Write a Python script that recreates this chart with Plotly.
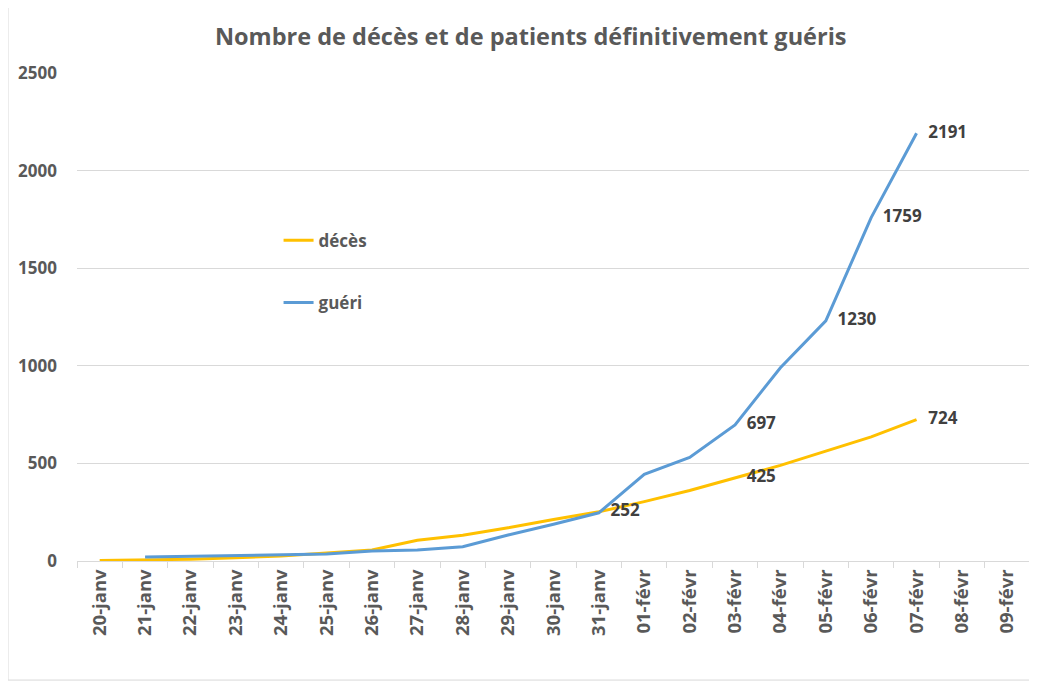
import plotly.graph_objects as go

categories = ["20-janv", "21-janv", "22-janv", "23-janv", "24-janv", "25-janv", "26-janv",
              "27-janv", "28-janv", "29-janv", "30-janv", "31-janv", "01-févr", "02-févr",
              "03-févr", "04-févr", "05-févr", "06-févr", "07-févr", "08-févr", "09-févr"]

deces_dates = categories[0:19]
deces = [3, 6, 9, 17, 25, 41, 56, 106, 132, 170, 213, 252, 304, 361, 425, 490, 563, 636, 724]
deces_labels = {"31-janv": "252", "03-févr": "425", "07-févr": "724"}

gueri_dates = categories[1:19]
gueri = [20, 24, 27, 31, 36, 51, 56, 73, 133, 188, 247, 444, 531, 697, 990, 1230, 1759, 2191]
gueri_labels = {"03-févr": "697", "05-févr": "1230", "06-févr": "1759", "07-févr": "2191"}

FONT = "Open Sans"
GREY = "#595959"
LABEL = "#404040"
PAD = "\u00a0\u00a0\u2009"

fig = go.Figure()
fig.add_trace(go.Scatter(
    x=deces_dates, y=deces, name="décès", mode="lines+text",
    line=dict(color="#FFC000", width=3),
    text=[PAD + deces_labels[d] if d in deces_labels else "" for d in deces_dates],
    textposition="middle right",
    textfont=dict(family=FONT, size=17, color=LABEL, weight="bold"),
    legendgroup="a", cliponaxis=False,
))
fig.add_trace(go.Scatter(
    x=gueri_dates, y=gueri, name="guéri", mode="lines+text",
    line=dict(color="#5B9BD5", width=3),
    text=[PAD + gueri_labels[d] if d in gueri_labels else "" for d in gueri_dates],
    textposition="middle right",
    textfont=dict(family=FONT, size=17, color=LABEL, weight="bold"),
    legendgroup="b", cliponaxis=False,
))

fig.update_layout(
    width=1029, height=675,
    margin=dict(l=69, r=7, t=65, b=122),
    paper_bgcolor="white", plot_bgcolor="white",
    title=dict(text="<b>Nombre de décès et de patients définitivement guéris</b>",
               x=0.508, xanchor="center", y=0.957, yanchor="middle",
               font=dict(family=FONT, size=23.5, color=GREY)),
    legend=dict(x=0.2115, y=0.693, xanchor="left", yanchor="top",
                bgcolor="rgba(0,0,0,0)", tracegroupgap=37,
                font=dict(family=FONT, size=17, color=GREY, weight="bold"),
                itemwidth=30),
    showlegend=True,
)
fig.update_xaxes(
    type="category", categoryorder="array", categoryarray=categories,
    range=[-0.5, len(categories) - 0.5],
    tickangle=-90, tickfont=dict(family=FONT, size=18.5, color=GREY, weight="bold"),
    showgrid=False, showline=True, linecolor="#d9d9d9", linewidth=1,
    ticks="outside", tickson="boundaries", ticklen=6, tickcolor="#d9d9d9",
)
fig.update_yaxes(
    range=[0, 2500], dtick=500, showgrid=True, gridcolor="#d9d9d9", gridwidth=1,
    zeroline=False, showline=False,
    tickfont=dict(family=FONT, size=17, color=GREY, weight="bold"),
    ticklabelstandoff=19,
)
fig.add_shape(type="rect", xref="paper", yref="paper", x0=-0.0724, x1=1.005, y0=-0.244, y1=1.3,
              line=dict(color="#d9d9d9", width=1), layer="below")

fig.write_html("out.html")
